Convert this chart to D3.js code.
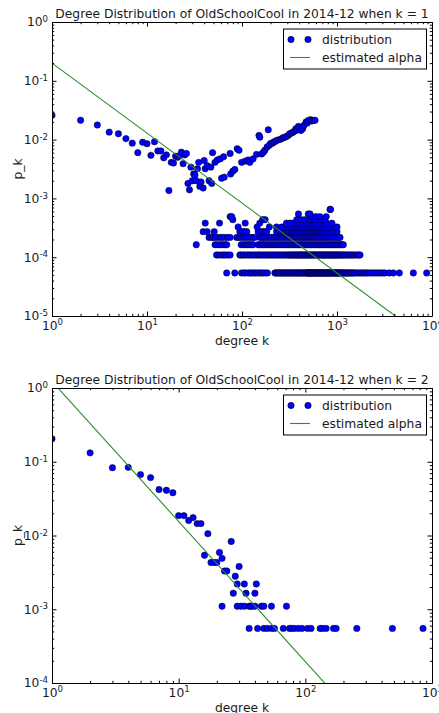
<!DOCTYPE html>
<html>
<head>
<meta charset="utf-8">
<script src="https://cdn.jsdelivr.net/npm/d3@7"></script>
<style>
body{margin:0;background:#fff;}
svg text{font-family:"DejaVu Sans",sans-serif;fill:#1a1a1a;}
</style>
</head>
<body>
<div id="chart"></div>
<script>
// ---- panel 1 (k = 1) ----
var k1Title = "Degree Distribution of OldSchoolCool in 2014-12 when k = 1";
var k1XTicks = [1, 10, 100, 1000, 10000];
var k1YTicks = [1e-5, 1e-4, 1e-3, 1e-2, 1e-1, 1];
// scattered points (degree, p_k)
var k1Degrees = [1,2,3,4,5,6,7,8,9,10,11,12,13,14,15,16,17,18,19,20,21,22,23,24,25,26,27,28,29,30,31,32,33,34,35,36,37,39,40,41,43,45,47,48,49,52,55,59,61,64,65,75,76,80,84,89,93,99,108,116,121,131,142,151,154,161,168,174,184,189,194,200,210,216,226,235,250,262,271,284,294,308,318,333,344,361,369,382,393,401,416,435,450,473,487,499,528,542,562,587];
var k1Probs = [0.0259,0.0213,0.0177,0.0134,0.0126,0.0104,0.0087,0.0060,0.0090,0.0085,0.0054,0.0092,0.0064,0.0064,0.0049,0.0055,0.00136,0.0041,0.0040,0.0052,0.0050,0.0053,0.0061,0.0039,0.0055,0.0058,0.0018,0.0014,0.0034,0.0020,0.0026,0.0025,0.0020,0.0032,0.0041,0.0016,0.0019,0.0015,0.0044,0.0032,0.0036,0.0020,0.0034,0.0018,0.0060,0.0041,0.0045,0.0047,0.0022,0.0051,0.0023,0.0058,0.0026,0.0029,0.0031,0.0070,0.0066,0.0041,0.0043,0.0045,0.0041,0.0047,0.0056,0.0118,0.0110,0.0057,0.0061,0.0066,0.0075,0.0147,0.0080,0.0086,0.0087,0.0091,0.0094,0.0098,0.0100,0.0104,0.0108,0.0110,0.0113,0.0118,0.0126,0.0129,0.0134,0.0140,0.0153,0.0148,0.0168,0.0160,0.0143,0.0153,0.0175,0.0199,0.0191,0.0212,0.0218,0.0207,0.0212,0.0213];
// quantised rows at the tail: p level of each row, then the degrees seen on it
var k1Levels = [5.4e-5, 1.09e-4, 1.63e-4, 2.17e-4, 2.72e-4, 3.26e-4, 3.8e-4, 4.35e-4, 4.9e-4, 5.43e-4, 6.5e-4];
var k1Count1 = [69,84,99,105,109,116,122,127,134,139,146,154,160,168,177,185,222,227,234,240,247,253,259,267,273,282,288,296,303,311,320,328,336,345,353,362,371,381,390,399,408,418,429,438,449,460,471,480,486,493,499,506,513,519,527,534,541,549,556,563,571,580,588,596,604,613,622,631,640,650,659,669,679,689,699,710,721,731,742,754,766,778,790,802,815,828,841,855,868,883,897,912,927,942,958,975,991,1008,1026,1045,1062,1083,1104,1128,1150,1177,1203,1236,1265,1298,1331,1371,1410,1452,1493,1540,1611,1678,1752,1820,1900,1972,2060,2137,2250,2373,2490,2616,2750,2884,3050,3200,3553,3918,4529,6359,8790];
var k1Count2 = [54,57,61,64,67,71,75,95,98,103,107,113,118,123,129,134,140,147,152,159,166,173,180,188,195,204,212,221,230,240,249,259,269,280,290,301,311,320,330,340,349,358,368,378,388,398,409,420,431,442,453,465,477,489,501,514,527,540,553,567,581,596,611,626,641,657,673,690,707,725,743,761,780,799,819,840,861,882,905,928,951,976,1001,1027,1054,1082,1111,1146,1182,1221,1262,1307,1352,1403,1455,1512,1570,1640,1710,1746];
var k1Count3 = [33,52,55,59,62,66,69,98,104,109,115,120,126,131,148,154,162,169,177,186,194,203,213,223,234,245,256,268,281,293,306,319,333,348,362,377,393,409,426,443,461,480,499,519,540,562,584,607,631,656,682,709,737,767,797,829,862,896,932,969,1007,1047,1088,1131,1166];
var k1Count4 = [45,48,50,53,57,61,65,70,75,88,93,98,104,110,117,123,130,137,155,162,170,179,187,197,206,217,227,238,250,262,275,289,303,318,333,349,366,384,403,422,443,464,487,511,535,561,588,617,646,677,710,744,780,818,857,898,942,987,1035,1076];
var k1Count5 = [39,43,51,95,101,106,112,148,157,165,173,182,231,241,252,263,276,288,302,315,330,345,361,377,395,413,432,452,473,495,518,542,567,593,620,649,679,710,743,777,813,851,890,931,1000];
var k1Count6 = [91,144,194,231,262,281,302,324,341,360,378,397,418,437,459,482,505,529,556,583,611,642,672,705,740,776,815,853,895,940,1000];
var k1Count7 = [41,58,108,154,294,320,344,372,401,449,480,520,565,610,660,720,780,885];
var k1Count8 = [80,165,175,377,416,455,510,562,610,680,745];
var k1Count9 = [75,78,540,600,660,770];
var k1Count10 = [393,498,520];
var k1Count12 = [845,855];
var k1Alpha = 1.19, k1Scale = 0.2;

// ---- panel 2 (k = 2) ----
var k2Title = "Degree Distribution of OldSchoolCool in 2014-12 when k = 2";
var k2XTicks = [1, 10, 100, 1000];
var k2YTicks = [1e-4, 1e-3, 1e-2, 1e-1, 1];
var k2Degrees = [1,2,3,4,5,6,7,8,9,10,11,12,13,14,15,16,17,18,19,20,21,22,23,24,26,27,28,29,30,33,34,40,41,
  22,29,31,33,36,37,38,40,45,47,54,71,
  36,42,47,50,54,57,67,75,78,82,88,94,104,111,131,137,146,167,175,255,487,849];
var k2Probs = [0.205,0.132,0.083,0.084,0.067,0.061,0.042,0.041,0.038,0.0186,0.0186,0.016,0.0175,0.0145,0.0145,0.0054,0.0106,0.0043,0.0043,0.0043,0.0059,0.0049,0.0033,0.0033,0.0083,0.00165,0.0028,0.0022,0.0038,0.0022,0.00165,0.00165,0.0022,
  0.0011,0.0011,0.0011,0.0011,0.0011,0.0011,0.0011,0.0011,0.0011,0.0011,0.0011,0.0011,
  0.00055,0.00055,0.00055,0.00055,0.00055,0.00055,0.00055,0.00055,0.00055,0.00055,0.00055,0.00055,0.00055,0.00055,0.00055,0.00055,0.00055,0.00055,0.00055,0.00055,0.00055,0.00055];
var k2Alpha = 1.9, k2Scale = 1.23;

var FONT = 12.3;
var svg = d3.select("#chart").append("svg").attr("width", 439).attr("height", 713);

function supLabels(sel){
    sel.selectAll(".tick text").each(function(d){
        var t = d3.select(this), e = Math.round(Math.log10(d));
        t.text(null);
        t.append("tspan").text("10");
        t.append("tspan").attr("dy", "-0.5em").attr("font-size", "8.6px").text(e < 0 ? "-" + (-e) : e);
    });
}

function drawPanel(cfg){
    var x = d3.scaleLog().domain(cfg.xDomain).range([52, 432]),
        y = d3.scaleLog().domain(cfg.yDomain).range([cfg.bottom, cfg.top]),
        g = svg.append("g"),
        clipId = "clip" + cfg.id;

    g.append("clipPath").attr("id", clipId).append("rect")
        .attr("x", 52).attr("y", cfg.top).attr("width", 380).attr("height", cfg.bottom - cfg.top);

    var plot = g.append("g").attr("clip-path", "url(#" + clipId + ")");
    plot.selectAll("circle").data(cfg.points).enter().append("circle")
        .attr("cx", function(d){ return x(d[0]); })
        .attr("cy", function(d){ return y(d[1]); })
        .attr("r", 3.2)
        .attr("fill", "#0000ff")
        .attr("stroke", "#000")
        .attr("stroke-width", 0.5);

    // fitted power law p = C * k^-alpha
    var fit = cfg.xDomain.map(function(k){ return [k, cfg.scale * Math.pow(k, -cfg.alpha)]; });
    plot.append("path").datum(fit)
        .attr("d", d3.line().x(function(d){ return x(d[0]); }).y(function(d){ return y(d[1]); }))
        .attr("fill", "none").attr("stroke", "#2a8c2a").attr("stroke-width", 1.1);

    var xMinor = x.ticks().filter(function(v){ return cfg.xTicks.indexOf(v) < 0; }),
        yMinor = y.ticks().filter(function(v){ return cfg.yTicks.indexOf(v) < 0; });

    // minor ticks on all four sides
    [[d3.axisBottom(x), "0," + cfg.bottom, xMinor], [d3.axisTop(x), "0," + cfg.top, xMinor],
     [d3.axisLeft(y), "52,0", yMinor], [d3.axisRight(y), "432,0", yMinor]].forEach(function(a){
        var ag = g.append("g").attr("transform", "translate(" + a[1] + ")")
            .call(a[0].tickValues(a[2]).tickSize(-2.2).tickFormat(""));
        ag.select(".domain").remove();
    });

    // major ticks + spines
    var bx = g.append("g").attr("transform", "translate(0," + cfg.bottom + ")")
        .call(d3.axisBottom(x).tickValues(cfg.xTicks).tickSizeInner(-4.5).tickSizeOuter(0).tickPadding(5));
    var lx = g.append("g").attr("transform", "translate(52,0)")
        .call(d3.axisLeft(y).tickValues(cfg.yTicks).tickSizeInner(-4.5).tickSizeOuter(0).tickPadding(4));
    g.append("g").attr("transform", "translate(0," + cfg.top + ")")
        .call(d3.axisTop(x).tickValues(cfg.xTicks).tickSizeInner(-4.5).tickSizeOuter(0).tickFormat(""));
    g.append("g").attr("transform", "translate(432,0)")
        .call(d3.axisRight(y).tickValues(cfg.yTicks).tickSizeInner(-4.5).tickSizeOuter(0).tickFormat(""));
    [bx, lx].forEach(function(a){ a.attr("font-size", FONT).attr("font-family", null); supLabels(a); });
    g.selectAll(".domain").attr("stroke", "#000").attr("stroke-width", 1);

    g.append("text").attr("x", 242).attr("y", cfg.top - 4.5).attr("text-anchor", "middle")
        .attr("font-size", FONT).text(cfg.title);
    g.append("text").attr("x", 242).attr("y", cfg.bottom + 29).attr("text-anchor", "middle")
        .attr("font-size", FONT).text("degree k");
    g.append("text").attr("transform", "translate(22," + ((cfg.top + cfg.bottom) / 2) + ") rotate(-90)")
        .attr("text-anchor", "middle").attr("font-size", FONT).text("p_k");

    // legend
    var ly = cfg.top + 7,
        leg = g.append("g");
    leg.append("rect").attr("x", 283.5).attr("y", ly).attr("width", 143).attr("height", 40)
        .attr("fill", "#fff").attr("stroke", "#000").attr("stroke-width", 1);
    leg.selectAll("circle").data([291, 308]).enter().append("circle")
        .attr("cx", function(d){ return d; }).attr("cy", ly + 10.5).attr("r", 3.2)
        .attr("fill", "#0000ff").attr("stroke", "#000").attr("stroke-width", 0.5);
    leg.append("line").attr("x1", 290).attr("x2", 310).attr("y1", ly + 28.5).attr("y2", ly + 28.5)
        .attr("stroke", "#2a8c2a").attr("stroke-width", 1.1);
    leg.append("text").attr("x", 322).attr("y", ly + 10.5).attr("dy", "0.35em").attr("font-size", FONT).text("distribution");
    leg.append("text").attr("x", 322).attr("y", ly + 28.5).attr("dy", "0.35em").attr("font-size", FONT).text("estimated alpha");
}

var k1Rows = [k1Count1, k1Count2, k1Count3, k1Count4, k1Count5, k1Count6, k1Count7, k1Count8, k1Count9, k1Count10, k1Count12];
var k1Points = [];
k1Rows.forEach(function(row, i){
    row.forEach(function(k){ k1Points.push([k, k1Levels[i]]); });
});
k1Degrees.forEach(function(k, i){ k1Points.push([k, k1Probs[i]]); });

var k2Points = k2Degrees.map(function(k, i){ return [k, k2Probs[i]]; });

drawPanel({id: 1, title: k1Title, xDomain: [1, 10000], yDomain: [1e-5, 1], xTicks: k1XTicks, yTicks: k1YTicks,
    top: 22, bottom: 316, points: k1Points, alpha: k1Alpha, scale: k1Scale});
drawPanel({id: 2, title: k2Title, xDomain: [1, 1000], yDomain: [1e-4, 1], xTicks: k2XTicks, yTicks: k2YTicks,
    top: 388, bottom: 683, points: k2Points, alpha: k2Alpha, scale: k2Scale});
</script>
</body>
</html>
